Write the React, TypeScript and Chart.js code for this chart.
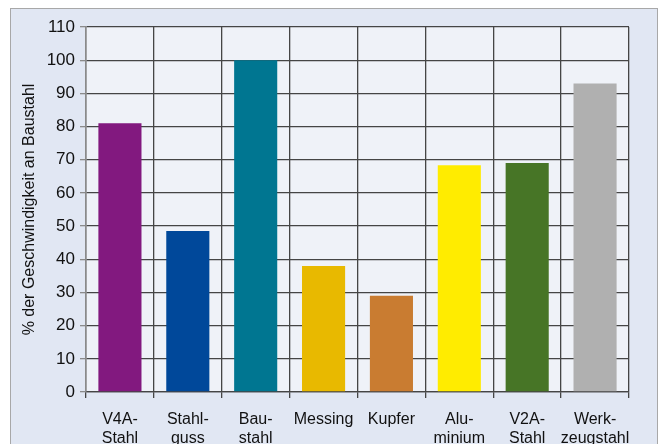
import React, { useEffect, useRef } from "react";
import { Chart, registerables } from "chart.js";

Chart.register(...registerables);

const categories: string[][] = [
  ["V4A-", "Stahl"],
  ["Stahl-", "guss"],
  ["Bau-", "stahl"],
  ["Messing"],
  ["Kupfer"],
  ["Alu-", "minium"],
  ["V2A-", "Stahl"],
  ["Werk-", "zeugstahl"],
];
const values: number[] = [81, 48.5, 100, 38, 29, 68.3, 69, 93];
const barColors: string[] = [
  "#82197f",
  "#00489a",
  "#007691",
  "#e8b900",
  "#c97c31",
  "#ffec00",
  "#477526",
  "#b0b0b0",
];
const yTitle = "% der Geschwindigkeit an Baustahl";
const yMin = 0;
const yMax = 110;
const yStep = 10;

const plotBg = {
  id: "plotBg",
  beforeDraw(chart: any) {
    const { ctx, chartArea } = chart;
    ctx.save();
    ctx.fillStyle = "#eff2f8";
    ctx.fillRect(chartArea.left, chartArea.top, chartArea.right - chartArea.left, chartArea.bottom - chartArea.top);
    ctx.restore();
  },
};

export default function App() {
  const ref = useRef<HTMLCanvasElement | null>(null);
  useEffect(() => {
    document.body.style.margin = "0";
    if (!ref.current) return;
    const chart = new Chart(ref.current, {
      type: "bar",
      data: {
        labels: categories,
        datasets: [
          {
            data: values,
            backgroundColor: barColors,
            borderWidth: 0,
            barPercentage: 0.635,
            categoryPercentage: 1,
          },
        ],
      },
      options: {
        animation: false,
        responsive: false,
        devicePixelRatio: 1,
        layout: { padding: { top: 27, right: 33, left: 0, bottom: 0 } },
        plugins: { legend: { display: false }, tooltip: { enabled: false } },
        scales: {
          x: {
            type: "category",
            grid: {
              color: "#454545",
              lineWidth: 1.3,
              tickLength: 6,
              offset: true,
            },
            border: { color: "#454545", width: 1.3 },
            ticks: {
              color: "#111111",
              padding: 12,
              maxRotation: 0,
              autoSkip: false,
              font: { family: "Liberation Sans, Arial, sans-serif", size: 16, lineHeight: "19px" },
            },
            afterFit(scale: any) {
              scale.height = 52;
            },
          },
          y: {
            type: "linear",
            min: yMin,
            max: yMax,
            ticks: {
              stepSize: yStep,
              color: "#111111",
              padding: 5,
              font: { family: "Liberation Sans, Arial, sans-serif", size: 17 },
            },
            grid: {
              color: "#454545",
              tickColor: "#8a8a8a",
              lineWidth: 1.3,
              tickLength: 6,
            },
            border: { color: "#8a8a8a", width: 1.5 },
            title: {
              display: true,
              text: yTitle,
              color: "#111111",
              padding: { top: 20, bottom: 0 },
              font: { family: "Liberation Sans, Arial, sans-serif", size: 16 },
            },
            afterFit(scale: any) {
              scale.width = 86;
            },
          },
        },
      },
      plugins: [plotBg],
    });
    return () => chart.destroy();
  }, []);

  return (
    <div style={{ position: "relative", width: 662, height: 444, overflow: "hidden", background: "#ffffff" }}>
      <div
        style={{
          position: "absolute",
          left: 10,
          top: 8,
          width: 646,
          height: 480,
          border: "1.5px solid #a8a8a8",
          background: "#e1e7f3",
        }}
      />
      <canvas ref={ref} width={662} height={444} style={{ position: "absolute", left: 0, top: 0, width: 662, height: 444 }} />
    </div>
  );
}
